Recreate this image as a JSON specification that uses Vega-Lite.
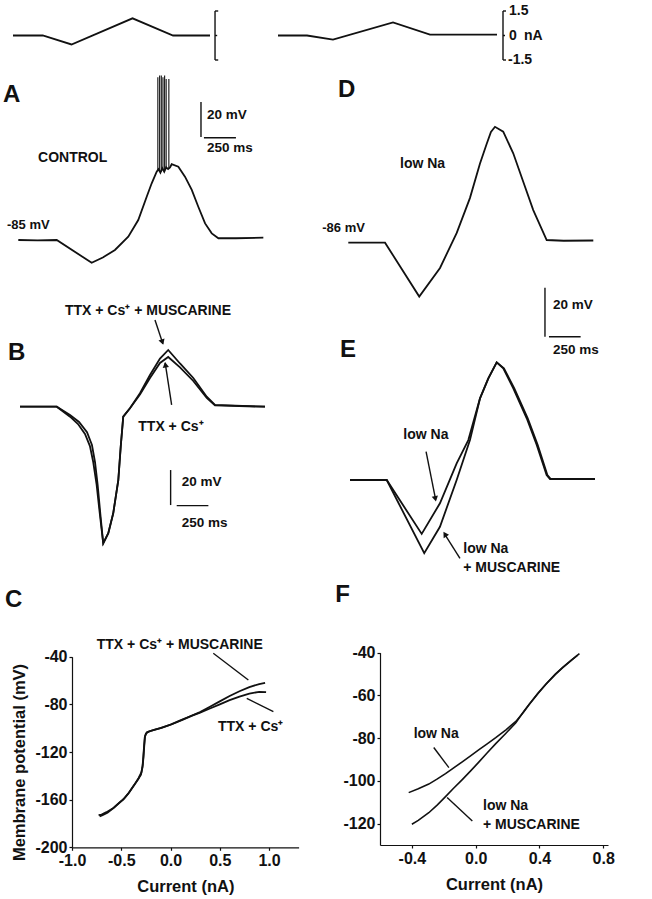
{
  "$schema": "https://vega.github.io/schema/vega-lite/v6.json",
  "width": 652,
  "height": 899,
  "padding": 0,
  "autosize": {"type": "none"},
  "background": "white",
  "data": {"values": [{}]},
  "config": {
    "view": {"stroke": null},
    "font": "Liberation Sans",
    "line": {"color": "#111", "strokeWidth": 1.8},
    "rule": {"color": "#111", "strokeWidth": 1.4},
    "point": {"color": "#111", "filled": true, "opacity": 1},
    "text": {"color": "#111", "font": "Liberation Sans", "fontWeight": "bold", "fontSize": 14, "align": "left", "baseline": "middle"},
    "axis": {
      "grid": false,
      "labelFont": "Liberation Sans", "labelFontWeight": "bold", "labelFontSize": 16, "labelColor": "#111",
      "labelPadding": 2, "labelFlush": false, "labelOverlap": false,
      "tickSize": 3, "tickColor": "#111", "tickWidth": 1.2,
      "domainColor": "#111", "domainWidth": 1.2,
      "titleFont": "Liberation Sans", "titleFontWeight": "bold", "titleFontSize": 16.5, "titleColor": "#111",
      "labelExpr": "replace(datum.label, '−', '-')"
    }
  },
  "datasets": {
    "stimL": [
      {"t": 0, "i": 0}, {"t": 290, "i": 0}, {"t": 570, "i": -0.55}, {"t": 1165, "i": 1.05}, {"t": 1560, "i": 0}, {"t": 1920, "i": 0}
    ],
    "stimR": [
      {"t": 0, "i": 0}, {"t": 290, "i": 0}, {"t": 550, "i": -0.25}, {"t": 1150, "i": 0.8}, {"t": 1520, "i": 0.05}, {"t": 2190, "i": 0.05}
    ],
    "A": [
      {"t": 0, "v": -85}, {"t": 150, "v": -85.2}, {"t": 300, "v": -85}, {"t": 573, "v": -98}, {"t": 660, "v": -95},
      {"t": 755, "v": -90.7}, {"t": 859, "v": -83.1}, {"t": 937, "v": -73.6}, {"t": 1003, "v": -60.3}, {"t": 1042, "v": -52.6},
      {"t": 1081, "v": -46}, {"t": 1095, "v": -44.5}, {"t": 1110, "v": -46.5}, {"t": 1125, "v": -44}, {"t": 1140, "v": -46},
      {"t": 1155, "v": -43.5}, {"t": 1170, "v": -44.5}, {"t": 1185, "v": -43.5},
      {"t": 1198, "v": -41.7}, {"t": 1250, "v": -43.1}, {"t": 1302, "v": -48.8},
      {"t": 1355, "v": -56.4}, {"t": 1406, "v": -66}, {"t": 1459, "v": -75.5}, {"t": 1511, "v": -81.2},
      {"t": 1563, "v": -84}, {"t": 1700, "v": -84}, {"t": 1914, "v": -83.7}
    ],
    "Aspikes": [
      {"t": 1090, "lo": -45, "hi": 8}, {"t": 1104, "lo": -45, "hi": 9}, {"t": 1117, "lo": -46, "hi": 9},
      {"t": 1130, "lo": -45, "hi": 8}, {"t": 1143, "lo": -45, "hi": 9}, {"t": 1155, "lo": -44, "hi": 7},
      {"t": 1176, "lo": -44, "hi": 7}
    ],
    "D": [
      {"t": 0, "v": -86}, {"t": 290, "v": -86}, {"t": 560, "v": -108}, {"t": 724, "v": -96.3}, {"t": 856, "v": -82},
      {"t": 960, "v": -67.8}, {"t": 1039, "v": -53.8}, {"t": 1092, "v": -45.7}, {"t": 1126, "v": -40.8}, {"t": 1158, "v": -38.7},
      {"t": 1223, "v": -40.7}, {"t": 1302, "v": -49.5}, {"t": 1381, "v": -61.1}, {"t": 1460, "v": -72.7},
      {"t": 1566, "v": -84.9}, {"t": 1700, "v": -85.2}, {"t": 1934, "v": -85.1}
    ],
    "B": [
      {"cond": "musc", "t": 0, "v": -85}, {"cond": "musc", "t": 290, "v": -85}, {"cond": "musc", "t": 395, "v": -90.7},
      {"cond": "musc", "t": 458, "v": -94.9}, {"cond": "musc", "t": 513, "v": -100.6}, {"cond": "musc", "t": 552, "v": -107.5},
      {"cond": "musc", "t": 578, "v": -116.6}, {"cond": "musc", "t": 605, "v": -129.7}, {"cond": "musc", "t": 631, "v": -146.9},
      {"cond": "musc", "t": 657, "v": -163.1}, {"cond": "musc", "t": 697, "v": -157.3}, {"cond": "musc", "t": 736, "v": -145.9},
      {"cond": "musc", "t": 776, "v": -126.9}, {"cond": "musc", "t": 795, "v": -107.9}, {"cond": "musc", "t": 815, "v": -90.7},
      {"cond": "musc", "t": 868, "v": -85.9}, {"cond": "musc", "t": 947, "v": -77.3}, {"cond": "musc", "t": 1026, "v": -66.9},
      {"cond": "musc", "t": 1105, "v": -57.5}, {"cond": "musc", "t": 1170, "v": -52.6}, {"cond": "musc", "t": 1263, "v": -60.3},
      {"cond": "musc", "t": 1368, "v": -68.6}, {"cond": "musc", "t": 1474, "v": -79.3}, {"cond": "musc", "t": 1539, "v": -84},
      {"cond": "musc", "t": 1934, "v": -85},
      {"cond": "ttx", "t": 0, "v": -85}, {"cond": "ttx", "t": 290, "v": -85}, {"cond": "ttx", "t": 395, "v": -89.7},
      {"cond": "ttx", "t": 466, "v": -93.7}, {"cond": "ttx", "t": 529, "v": -99.5}, {"cond": "ttx", "t": 568, "v": -106.9},
      {"cond": "ttx", "t": 592, "v": -116.6}, {"cond": "ttx", "t": 613, "v": -129.7}, {"cond": "ttx", "t": 635, "v": -146.9},
      {"cond": "ttx", "t": 657, "v": -163.1}, {"cond": "ttx", "t": 697, "v": -157.3}, {"cond": "ttx", "t": 736, "v": -145.9},
      {"cond": "ttx", "t": 776, "v": -126.9}, {"cond": "ttx", "t": 795, "v": -107.9}, {"cond": "ttx", "t": 815, "v": -90.7},
      {"cond": "ttx", "t": 868, "v": -85.9}, {"cond": "ttx", "t": 947, "v": -78}, {"cond": "ttx", "t": 1026, "v": -68.6},
      {"cond": "ttx", "t": 1105, "v": -60}, {"cond": "ttx", "t": 1170, "v": -56.6}, {"cond": "ttx", "t": 1263, "v": -62.5},
      {"cond": "ttx", "t": 1368, "v": -70.3}, {"cond": "ttx", "t": 1474, "v": -80}, {"cond": "ttx", "t": 1539, "v": -84.3},
      {"cond": "ttx", "t": 1934, "v": -85}
    ],
    "E": [
      {"cond": "lowNa", "t": 0, "v": -86}, {"cond": "lowNa", "t": 290, "v": -86}, {"cond": "lowNa", "t": 566, "v": -108},
      {"cond": "lowNa", "t": 710, "v": -95.5}, {"cond": "lowNa", "t": 842, "v": -79.2}, {"cond": "lowNa", "t": 934, "v": -69.7},
      {"cond": "lowNa", "t": 1026, "v": -52.7}, {"cond": "lowNa", "t": 1092, "v": -44.5}, {"cond": "lowNa", "t": 1158, "v": -38},
      {"cond": "lowNa", "t": 1210, "v": -40.4}, {"cond": "lowNa", "t": 1289, "v": -48.6}, {"cond": "lowNa", "t": 1395, "v": -60.8},
      {"cond": "lowNa", "t": 1474, "v": -71.7}, {"cond": "lowNa", "t": 1552, "v": -84}, {"cond": "lowNa", "t": 1579, "v": -85.6},
      {"cond": "lowNa", "t": 1934, "v": -85.6},
      {"cond": "musc", "t": 0, "v": -86}, {"cond": "musc", "t": 290, "v": -86}, {"cond": "musc", "t": 586, "v": -115.9},
      {"cond": "musc", "t": 710, "v": -105.1}, {"cond": "musc", "t": 842, "v": -86}, {"cond": "musc", "t": 947, "v": -69.7},
      {"cond": "musc", "t": 1026, "v": -52.7}, {"cond": "musc", "t": 1092, "v": -44.5}, {"cond": "musc", "t": 1158, "v": -38},
      {"cond": "musc", "t": 1215, "v": -40.4}, {"cond": "musc", "t": 1297, "v": -48.6}, {"cond": "musc", "t": 1403, "v": -60.8},
      {"cond": "musc", "t": 1482, "v": -71.7}, {"cond": "musc", "t": 1558, "v": -84}, {"cond": "musc", "t": 1585, "v": -85.6},
      {"cond": "musc", "t": 1934, "v": -85.6}
    ],
    "C": [
      {"cond": "musc", "i": -0.73, "v": -173}, {"cond": "musc", "i": -0.7, "v": -172.5}, {"cond": "musc", "i": -0.65, "v": -170.5},
      {"cond": "musc", "i": -0.58, "v": -167}, {"cond": "musc", "i": -0.52, "v": -162.5}, {"cond": "musc", "i": -0.48, "v": -160},
      {"cond": "musc", "i": -0.43, "v": -155}, {"cond": "musc", "i": -0.38, "v": -149}, {"cond": "musc", "i": -0.33, "v": -143},
      {"cond": "musc", "i": -0.3, "v": -139}, {"cond": "musc", "i": -0.285, "v": -133}, {"cond": "musc", "i": -0.278, "v": -126},
      {"cond": "musc", "i": -0.27, "v": -117}, {"cond": "musc", "i": -0.262, "v": -108}, {"cond": "musc", "i": -0.25, "v": -104.5},
      {"cond": "musc", "i": -0.22, "v": -102.8}, {"cond": "musc", "i": -0.15, "v": -101}, {"cond": "musc", "i": -0.1, "v": -100},
      {"cond": "musc", "i": 0.0, "v": -97}, {"cond": "musc", "i": 0.1, "v": -93.5}, {"cond": "musc", "i": 0.2, "v": -90},
      {"cond": "musc", "i": 0.3, "v": -86.5}, {"cond": "musc", "i": 0.4, "v": -82}, {"cond": "musc", "i": 0.5, "v": -77.5},
      {"cond": "musc", "i": 0.6, "v": -73}, {"cond": "musc", "i": 0.7, "v": -69}, {"cond": "musc", "i": 0.8, "v": -65.5},
      {"cond": "musc", "i": 0.9, "v": -63}, {"cond": "musc", "i": 0.96, "v": -62},
      {"cond": "ttx", "i": -0.72, "v": -174}, {"cond": "ttx", "i": -0.69, "v": -173}, {"cond": "ttx", "i": -0.64, "v": -171},
      {"cond": "ttx", "i": -0.57, "v": -166.5}, {"cond": "ttx", "i": -0.51, "v": -162}, {"cond": "ttx", "i": -0.47, "v": -159},
      {"cond": "ttx", "i": -0.42, "v": -154}, {"cond": "ttx", "i": -0.37, "v": -148}, {"cond": "ttx", "i": -0.325, "v": -142},
      {"cond": "ttx", "i": -0.295, "v": -137}, {"cond": "ttx", "i": -0.282, "v": -131}, {"cond": "ttx", "i": -0.274, "v": -124},
      {"cond": "ttx", "i": -0.266, "v": -114}, {"cond": "ttx", "i": -0.258, "v": -106.5}, {"cond": "ttx", "i": -0.24, "v": -103.5},
      {"cond": "ttx", "i": -0.2, "v": -102.3}, {"cond": "ttx", "i": -0.13, "v": -100.6}, {"cond": "ttx", "i": -0.08, "v": -99.3},
      {"cond": "ttx", "i": 0.02, "v": -96.5}, {"cond": "ttx", "i": 0.12, "v": -93}, {"cond": "ttx", "i": 0.22, "v": -89.5},
      {"cond": "ttx", "i": 0.3, "v": -87}, {"cond": "ttx", "i": 0.4, "v": -83.5}, {"cond": "ttx", "i": 0.5, "v": -80},
      {"cond": "ttx", "i": 0.6, "v": -76.5}, {"cond": "ttx", "i": 0.7, "v": -73.5}, {"cond": "ttx", "i": 0.8, "v": -71},
      {"cond": "ttx", "i": 0.9, "v": -69.5}, {"cond": "ttx", "i": 0.97, "v": -69.8}
    ],
    "F": [
      {"cond": "lowNa", "i": -0.42, "v": -105.5}, {"cond": "lowNa", "i": -0.36, "v": -103.7}, {"cond": "lowNa", "i": -0.294, "v": -101.5},
      {"cond": "lowNa", "i": -0.24, "v": -99.1}, {"cond": "lowNa", "i": -0.189, "v": -96.6}, {"cond": "lowNa", "i": -0.14, "v": -94},
      {"cond": "lowNa", "i": -0.084, "v": -91.1}, {"cond": "lowNa", "i": -0.03, "v": -88.2}, {"cond": "lowNa", "i": 0.021, "v": -85.4},
      {"cond": "lowNa", "i": 0.07, "v": -82.8}, {"cond": "lowNa", "i": 0.126, "v": -79.8}, {"cond": "lowNa", "i": 0.19, "v": -76.1},
      {"cond": "lowNa", "i": 0.252, "v": -72.2}, {"cond": "lowNa", "i": 0.3, "v": -67.9}, {"cond": "lowNa", "i": 0.336, "v": -64.3},
      {"cond": "lowNa", "i": 0.39, "v": -59.2}, {"cond": "lowNa", "i": 0.441, "v": -54.8}, {"cond": "lowNa", "i": 0.5, "v": -50.2},
      {"cond": "lowNa", "i": 0.546, "v": -47}, {"cond": "lowNa", "i": 0.6, "v": -43.6}, {"cond": "lowNa", "i": 0.64, "v": -41.2},
      {"cond": "musc", "i": -0.4, "v": -120.3}, {"cond": "musc", "i": -0.36, "v": -118.5}, {"cond": "musc", "i": -0.294, "v": -114.9},
      {"cond": "musc", "i": -0.24, "v": -111.2}, {"cond": "musc", "i": -0.189, "v": -107.4}, {"cond": "musc", "i": -0.14, "v": -103.6},
      {"cond": "musc", "i": -0.084, "v": -99.4}, {"cond": "musc", "i": -0.03, "v": -95.2}, {"cond": "musc", "i": 0.021, "v": -91.1},
      {"cond": "musc", "i": 0.07, "v": -87.1}, {"cond": "musc", "i": 0.126, "v": -82.6}, {"cond": "musc", "i": 0.19, "v": -77.7},
      {"cond": "musc", "i": 0.252, "v": -72.8}, {"cond": "musc", "i": 0.3, "v": -67.7}, {"cond": "musc", "i": 0.336, "v": -64.1},
      {"cond": "musc", "i": 0.39, "v": -59}, {"cond": "musc", "i": 0.441, "v": -54.7}, {"cond": "musc", "i": 0.5, "v": -50.1},
      {"cond": "musc", "i": 0.546, "v": -46.9}, {"cond": "musc", "i": 0.6, "v": -43.5}, {"cond": "musc", "i": 0.651, "v": -40.5}
    ]
  },
  "resolve": {"scale": {"x": "independent", "y": "independent"}, "axis": {"x": "independent", "y": "independent"}},
  "layer": [
    {
      "layer": [
        {"data": {"name": "stimL"}, "mark": "line",
         "encoding": {"x": {"field": "t", "type": "quantitative", "scale": {"domain": [0, 1920], "range": [13, 210], "nice": false, "zero": false}, "axis": null},
                      "y": {"field": "i", "type": "quantitative", "scale": {"domain": [-1.5, 1.5], "range": [60, 11], "nice": false, "zero": false}, "axis": null}}},
        {"mark": "rule", "encoding": {"x": {"datum": 1969, "axis": null}, "y": {"datum": -1.5, "axis": null}, "y2": {"datum": 1.5}}},
        {"mark": "rule", "encoding": {"x": {"datum": 1969, "axis": null}, "x2": {"datum": 2000}, "y": {"datum": 1.5, "axis": null}}},
        {"mark": "rule", "encoding": {"x": {"datum": 1969, "axis": null}, "x2": {"datum": 2000}, "y": {"datum": -1.5, "axis": null}}},
        {"mark": "rule", "encoding": {"x": {"datum": 1969, "axis": null}, "x2": {"datum": 1990}, "y": {"datum": 0, "axis": null}}}
      ]
    },
    {
      "layer": [
        {"data": {"name": "stimR"}, "mark": "line",
         "encoding": {"x": {"field": "t", "type": "quantitative", "scale": {"domain": [0, 2200], "range": [278, 498], "nice": false, "zero": false}, "axis": null},
                      "y": {"field": "i", "type": "quantitative", "scale": {"domain": [-1.5, 1.5], "range": [60, 11], "nice": false, "zero": false}, "axis": null}}},
        {"mark": "rule", "encoding": {"x": {"datum": 2250, "axis": null}, "y": {"datum": -1.5, "axis": null}, "y2": {"datum": 1.5}}},
        {"mark": "rule", "encoding": {"x": {"datum": 2250, "axis": null}, "x2": {"datum": 2280}, "y": {"datum": 1.5, "axis": null}}},
        {"mark": "rule", "encoding": {"x": {"datum": 2250, "axis": null}, "x2": {"datum": 2280}, "y": {"datum": -1.5, "axis": null}}},
        {"mark": "rule", "encoding": {"x": {"datum": 2250, "axis": null}, "x2": {"datum": 2270}, "y": {"datum": 0, "axis": null}}},
        {"mark": {"type": "text", "text": "1.5"}, "encoding": {"x": {"datum": 2310, "axis": null}, "y": {"datum": 1.5, "axis": null}}},
        {"mark": {"type": "text", "text": "0"}, "encoding": {"x": {"datum": 2310, "axis": null}, "y": {"datum": 0, "axis": null}}},
        {"mark": {"type": "text", "text": "nA"}, "encoding": {"x": {"datum": 2460, "axis": null}, "y": {"datum": 0, "axis": null}}},
        {"mark": {"type": "text", "text": "-1.5"}, "encoding": {"x": {"datum": 2300, "axis": null}, "y": {"datum": -1.5, "axis": null}}}
      ]
    },
    {
      "layer": [
        {"data": {"name": "A"}, "mark": "line",
         "encoding": {"x": {"field": "t", "type": "quantitative", "scale": {"domain": [0, 1920], "range": [18.3, 264.1], "nice": false, "zero": false}, "axis": null},
                      "y": {"field": "v", "type": "quantitative", "scale": {"domain": [-100, 20], "range": [266.25, 56.25], "nice": false, "zero": false}, "axis": null}}},
        {"data": {"name": "Aspikes"}, "mark": {"type": "rule", "strokeWidth": 1.1},
         "encoding": {"x": {"field": "t", "type": "quantitative", "axis": null},
                      "y": {"field": "lo", "type": "quantitative", "axis": null}, "y2": {"field": "hi"}}},
        {"mark": {"type": "text", "text": "A", "fontSize": 24, "baseline": "alphabetic"}, "encoding": {"x": {"datum": -119.5, "axis": null}, "y": {"datum": -6.1, "axis": null}}},
        {"mark": {"type": "text", "text": "CONTROL"}, "encoding": {"x": {"datum": 154, "axis": null}, "y": {"datum": -38.1, "axis": null}}},
        {"mark": {"type": "text", "text": "-85 mV", "fontSize": 13}, "encoding": {"x": {"datum": -88, "axis": null}, "y": {"datum": -76.4, "axis": null}}},
        {"mark": "rule", "encoding": {"x": {"datum": 1427, "axis": null}, "y": {"datum": -6.1, "axis": null}, "y2": {"datum": -26.1}}},
        {"mark": "rule", "encoding": {"x": {"datum": 1450, "axis": null}, "x2": {"datum": 1700}, "y": {"datum": -26.6, "axis": null}}},
        {"mark": {"type": "text", "text": "20 mV", "fontSize": 13.5}, "encoding": {"x": {"datum": 1474, "axis": null}, "y": {"datum": -13.6, "axis": null}}},
        {"mark": {"type": "text", "text": "250 ms", "fontSize": 13.5}, "encoding": {"x": {"datum": 1474, "axis": null}, "y": {"datum": -32.4, "axis": null}}}
      ]
    },
    {
      "layer": [
        {"data": {"name": "D"}, "mark": "line",
         "encoding": {"x": {"field": "t", "type": "quantitative", "scale": {"domain": [0, 1934], "range": [348.3, 593.3], "nice": false, "zero": false}, "axis": null},
                      "y": {"field": "v", "type": "quantitative", "scale": {"domain": [-120, -20], "range": [326, 81], "nice": false, "zero": false}, "axis": null}}},
        {"mark": {"type": "text", "text": "D", "fontSize": 24, "baseline": "alphabetic"}, "encoding": {"x": {"datum": -81.3, "axis": null}, "y": {"datum": -26.5, "axis": null}}},
        {"mark": {"type": "text", "text": "low Na"}, "encoding": {"x": {"datum": 408, "axis": null}, "y": {"datum": -53.9, "axis": null}}},
        {"mark": {"type": "text", "text": "-86 mV", "fontSize": 13, "align": "right"}, "encoding": {"x": {"datum": 131, "axis": null}, "y": {"datum": -80, "axis": null}}},
        {"mark": "rule", "encoding": {"x": {"datum": 1552.5, "axis": null}, "y": {"datum": -104.4, "axis": null}, "y2": {"datum": -124.4}}},
        {"mark": "rule", "encoding": {"x": {"datum": 1584, "axis": null}, "x2": {"datum": 1834}, "y": {"datum": -124.4, "axis": null}}},
        {"mark": {"type": "text", "text": "20 mV", "fontSize": 13.5}, "encoding": {"x": {"datum": 1615, "axis": null}, "y": {"datum": -111.4, "axis": null}}},
        {"mark": {"type": "text", "text": "250 ms", "fontSize": 13.5}, "encoding": {"x": {"datum": 1615, "axis": null}, "y": {"datum": -129.8, "axis": null}}}
      ]
    },
    {
      "layer": [
        {"data": {"name": "B"}, "mark": "line",
         "encoding": {"x": {"field": "t", "type": "quantitative", "scale": {"domain": [0, 1934], "range": [20, 265], "nice": false, "zero": false}, "axis": null},
                      "y": {"field": "v", "type": "quantitative", "scale": {"domain": [-170, -40], "range": [555.45, 327.95], "nice": false, "zero": false}, "axis": null},
                      "detail": {"field": "cond"}}},
        {"mark": {"type": "text", "text": "B", "fontSize": 24, "baseline": "alphabetic"}, "encoding": {"x": {"datum": -94.7, "axis": null}, "y": {"datum": -58.3, "axis": null}}},
        {"mark": {"type": "text", "text": "TTX + Cs⁺ + MUSCARINE"}, "encoding": {"x": {"datum": 355, "axis": null}, "y": {"datum": -30.1, "axis": null}}},
        {"mark": {"type": "text", "text": "TTX + Cs⁺"}, "encoding": {"x": {"datum": 933.7, "axis": null}, "y": {"datum": -96.4, "axis": null}}},
        {"mark": "rule", "encoding": {"x": {"datum": 1065.5, "axis": null}, "y": {"datum": -35.5, "axis": null}, "x2": {"datum": 1128}, "y2": {"datum": -49}}},
        {"mark": {"type": "point", "shape": "triangle-up", "size": 40, "angle": 161.6}, "encoding": {"x": {"datum": 1124, "axis": null}, "y": {"datum": -48.1, "axis": null}}},
        {"mark": "rule", "encoding": {"x": {"datum": 1197, "axis": null}, "y": {"datum": -84, "axis": null}, "x2": {"datum": 1146}, "y2": {"datum": -60}}},
        {"mark": {"type": "point", "shape": "triangle-up", "size": 40, "angle": 351.2}, "encoding": {"x": {"datum": 1148, "axis": null}, "y": {"datum": -61, "axis": null}}},
        {"mark": "rule", "encoding": {"x": {"datum": 1189, "axis": null}, "y": {"datum": -121.2, "axis": null}, "y2": {"datum": -141.2}}},
        {"mark": "rule", "encoding": {"x": {"datum": 1237, "axis": null}, "x2": {"datum": 1487}, "y": {"datum": -141.5, "axis": null}}},
        {"mark": {"type": "text", "text": "20 mV", "fontSize": 13.5}, "encoding": {"x": {"datum": 1276, "axis": null}, "y": {"datum": -127.9, "axis": null}}},
        {"mark": {"type": "text", "text": "250 ms", "fontSize": 13.5}, "encoding": {"x": {"datum": 1276, "axis": null}, "y": {"datum": -151.6, "axis": null}}}
      ]
    },
    {
      "layer": [
        {"data": {"name": "E"}, "mark": "line",
         "encoding": {"x": {"field": "t", "type": "quantitative", "scale": {"domain": [0, 1934], "range": [350, 595], "nice": false, "zero": false}, "axis": null},
                      "y": {"field": "v", "type": "quantitative", "scale": {"domain": [-130, -30], "range": [587.8, 342.8], "nice": false, "zero": false}, "axis": null},
                      "detail": {"field": "cond"}}},
        {"mark": {"type": "text", "text": "E", "fontSize": 24, "baseline": "alphabetic"}, "encoding": {"x": {"datum": -79, "axis": null}, "y": {"datum": -35.8, "axis": null}}},
        {"mark": {"type": "text", "text": "low Na"}, "encoding": {"x": {"datum": 421, "axis": null}, "y": {"datum": -67.6, "axis": null}}},
        {"mark": "rule", "encoding": {"x": {"datum": 600.6, "axis": null}, "y": {"datum": -74.4, "axis": null}, "x2": {"datum": 676}, "y2": {"datum": -94}}},
        {"mark": {"type": "point", "shape": "triangle-up", "size": 40, "angle": 168.7}, "encoding": {"x": {"datum": 674, "axis": null}, "y": {"datum": -93.7, "axis": null}}},
        {"mark": {"type": "text", "text": "low Na"}, "encoding": {"x": {"datum": 894, "axis": null}, "y": {"datum": -114.3, "axis": null}}},
        {"mark": {"type": "text", "text": "+ MUSCARINE"}, "encoding": {"x": {"datum": 894, "axis": null}, "y": {"datum": -122, "axis": null}}},
        {"mark": "rule", "encoding": {"x": {"datum": 868.2, "axis": null}, "y": {"datum": -118, "axis": null}, "x2": {"datum": 746}, "y2": {"datum": -108}}},
        {"mark": {"type": "point", "shape": "triangle-up", "size": 40, "angle": 327.9}, "encoding": {"x": {"datum": 749, "axis": null}, "y": {"datum": -108.1, "axis": null}}}
      ]
    },
    {
      "layer": [
        {"data": {"name": "C"}, "mark": "line",
         "encoding": {"x": {"field": "i", "type": "quantitative", "scale": {"domain": [-1, 1.3], "range": [72, 298.6], "nice": false, "zero": false},
                            "axis": {"orient": "bottom", "offset": -51.7, "values": [-1, -0.5, 0, 0.5, 1], "format": ".1f", "title": "Current (nA)", "titlePadding": 10}},
                      "y": {"field": "v", "type": "quantitative", "scale": {"domain": [-200, -40], "range": [847.3, 656.7], "nice": false, "zero": false},
                            "axis": {"orient": "left", "offset": -72, "values": [-200, -160, -120, -80, -40], "title": "Membrane potential (mV)", "titlePadding": 7, "titleY": 762}},
                      "detail": {"field": "cond"}}},
        {"mark": {"type": "text", "text": "C", "fontSize": 24, "baseline": "alphabetic"}, "encoding": {"x": {"datum": -1.68}, "y": {"datum": 1.8}}},
        {"mark": {"type": "text", "text": "TTX + Cs⁺ + MUSCARINE"}, "encoding": {"x": {"datum": -0.749}, "y": {"datum": -30.2}}},
        {"mark": "rule", "encoding": {"x": {"datum": 0.434}, "y": {"datum": -37.1}, "x2": {"datum": 0.79}, "y2": {"datum": -59.6}}},
        {"mark": {"type": "text", "text": "TTX + Cs⁺"}, "encoding": {"x": {"datum": 0.482}, "y": {"datum": -98.8}}},
        {"mark": "rule", "encoding": {"x": {"datum": 0.774}, "y": {"datum": -75}, "x2": {"datum": 1.044}, "y2": {"datum": -86.2}}}
      ]
    },
    {
      "layer": [
        {"data": {"name": "F"}, "mark": {"type": "line", "strokeWidth": 1.6},
         "encoding": {"x": {"field": "i", "type": "quantitative", "scale": {"domain": [-0.6, 0.83], "range": [380, 608], "nice": false, "zero": false},
                            "axis": {"orient": "bottom", "offset": -54, "values": [-0.4, 0, 0.4, 0.8], "format": ".1f", "title": "Current (nA)", "titlePadding": 10}},
                      "y": {"field": "v", "type": "quantitative", "scale": {"domain": [-130, -40], "range": [845, 652.6], "nice": false, "zero": false},
                            "axis": {"orient": "left", "offset": -380, "values": [-120, -100, -80, -60, -40], "title": ""}},
                      "detail": {"field": "cond"}}},
        {"mark": {"type": "text", "text": "F", "fontSize": 24, "baseline": "alphabetic"}, "encoding": {"x": {"datum": -0.88}, "y": {"datum": -16.5}}},
        {"mark": {"type": "text", "text": "low Na"}, "encoding": {"x": {"datum": -0.389}, "y": {"datum": -78.2}}},
        {"mark": "rule", "encoding": {"x": {"datum": -0.263}, "y": {"datum": -84.4}, "x2": {"datum": -0.168}, "y2": {"datum": -93.8}}},
        {"mark": {"type": "text", "text": "low Na"}, "encoding": {"x": {"datum": 0.046}, "y": {"datum": -111.8}}},
        {"mark": {"type": "text", "text": "+ MUSCARINE"}, "encoding": {"x": {"datum": 0.046}, "y": {"datum": -120.7}}},
        {"mark": "rule", "encoding": {"x": {"datum": -0.179}, "y": {"datum": -107.8}, "x2": {"datum": -0.021}, "y2": {"datum": -118.8}}}
      ]
    }
  ]
}
